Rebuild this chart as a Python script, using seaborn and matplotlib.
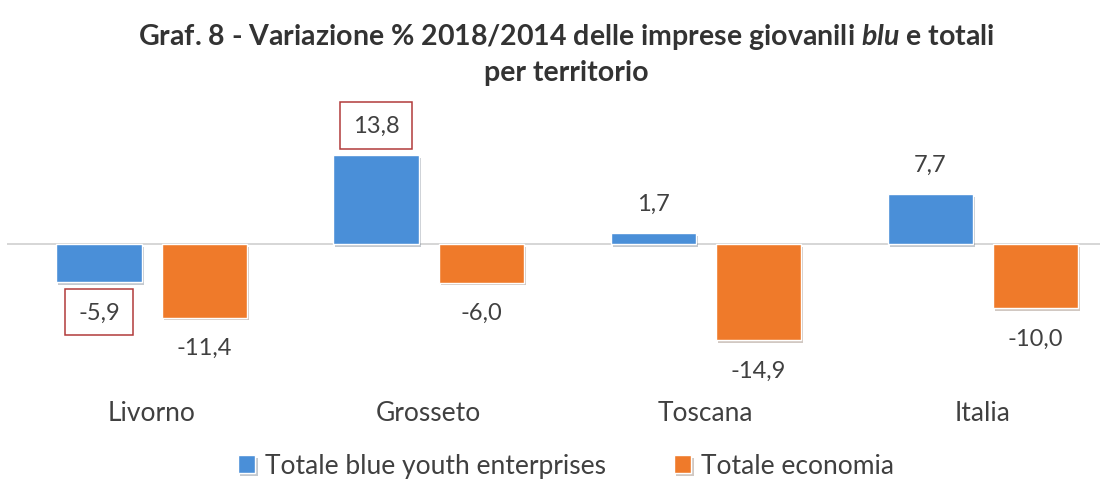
import pandas as pd
import matplotlib
matplotlib.use('Agg')
import matplotlib.pyplot as plt
import matplotlib.patheffects as pe
import seaborn as sns

# Dati
territori = ['Livorno', 'Grosseto', 'Toscana', 'Italia']
blue_youth = [-5.9, 13.8, 1.7, 7.7]
totale_economia = [-11.4, -6.0, -14.9, -10.0]
serie = ['Totale blue youth enterprises', 'Totale economia']

df = pd.DataFrame({
    'territorio': territori * 2,
    'valore': blue_youth + totale_economia,
    'serie': [serie[0]] * 4 + [serie[1]] * 4,
})

sns.set_theme(style='white')
plt.rcParams['font.family'] = ['Lato', 'DejaVu Sans']
plt.rcParams['mathtext.fontset'] = 'custom'
plt.rcParams['mathtext.rm'] = 'Lato:bold'
plt.rcParams['mathtext.it'] = 'Lato:italic:bold'
plt.rcParams['mathtext.bf'] = 'Lato:bold'

text_col = '#404040'
colors = ['#4a8fd8', '#ef7a2a']

fig = plt.figure(figsize=(11.08, 4.85), dpi=100)
ax = fig.add_axes([7 / 1108, 90 / 485, 1093 / 1108, 255 / 485])

sns.barplot(data=df, x='territorio', y='valore', hue='serie', palette=colors,
            width=0.76, gap=0.19, ax=ax, saturation=1)

for bar in ax.patches:
    bar.set_path_effects([pe.SimplePatchShadow(offset=(1.5, -2), alpha=0.25), pe.Normal()])

ax.set_xlim(-0.5216, 3.4224)
ax.set_ylim(-23.26, 16.28)
ax.axhline(0, color='#d0d0d0', lw=1.2, zorder=0)

for i, cont in enumerate(ax.containers[:2]):
    vals = blue_youth if i == 0 else totale_economia
    labs = [f'{v:.1f}'.replace('.', ',') for v in vals]
    texts = ax.bar_label(cont, labels=labs, padding=14, fontsize=17, color=text_col)
    if i == 0:
        for t in texts[:2]:
            t.set_bbox(dict(boxstyle='square,pad=0.55', fc='white', ec='#b23a3a', lw=1.1))

sns.despine(ax=ax, left=True, bottom=True)
ax.set_yticks([])
ax.set_xlabel('')
ax.set_ylabel('')
ax.tick_params(axis='x', length=0, pad=4, labelsize=19, labelcolor=text_col)

ax.get_legend().remove()
handles, labels = ax.get_legend_handles_labels()
fig.legend(handles, labels, loc='center', bbox_to_anchor=(566 / 1108, 18 / 485), ncol=2,
           frameon=False, fontsize=19, handlelength=0.65, handleheight=0.65,
           handletextpad=0.35, columnspacing=2.6, labelcolor=text_col)

fig.text(566 / 1108, 1 - 37 / 485,
         r'Graf. 8 - Variazione % 2018/2014 delle imprese giovanili $\mathit{blu}$ e totali',
         ha='center', va='center', fontsize=20.5, fontweight='bold', color='#333333')
fig.text(566 / 1108, 1 - 73 / 485, 'per territorio',
         ha='center', va='center', fontsize=20.5, fontweight='bold', color='#333333')

fig.savefig('out.png', dpi=100)
